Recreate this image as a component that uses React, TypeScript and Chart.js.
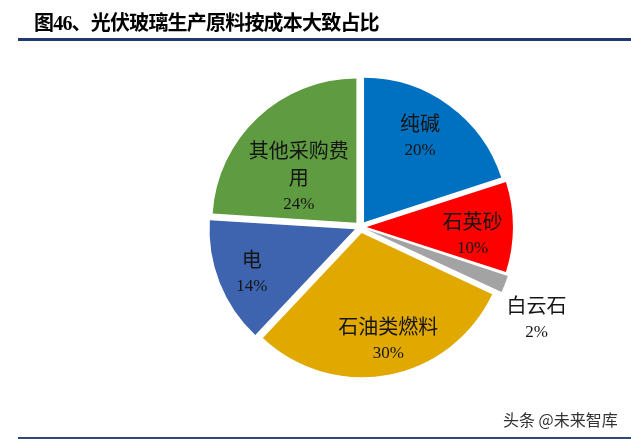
import React, { useEffect, useRef } from "react";
import { Chart, registerables } from "chart.js";

Chart.register(...registerables);

const categories = ["纯碱", "石英砂", "白云石", "石油类燃料", "电", "其他采购费用"];
const shares = [20, 10, 2, 30, 14, 24];
const sliceColors = ["#0070C0", "#FF0000", "#A3A3A3", "#E1A900", "#3E63AF", "#5F9B40"];
const titleText = "图46、光伏玻璃生产原料按成本大致占比";
const watermarkText = "头条 @未来智库";

// label placement per slice: radial fraction and angular nudge (degrees)
const labelLayout = [
  { f: 0.75, da: -2.5 },
  { f: 0.78, da: 4 },
  { f: 1.38, da: 6 },
  { f: 0.81, da: -3 },
  { f: 0.82, da: -1.3 },
  { f: 0.55, da: -8 },
];

const labelPlugin = {
  id: "sliceLabels",
  afterDatasetsDraw(chart: any) {
    const ctx = chart.ctx;
    const meta = chart.getDatasetMeta(0);
    const data = chart.data.datasets[0].data as number[];
    const total = data.reduce((a, b) => a + b, 0);
    ctx.save();
    ctx.fillStyle = "#151515";
    ctx.textAlign = "center";
    ctx.textBaseline = "middle";
    meta.data.forEach((arc: any, i: number) => {
      const p = arc.getProps(["x", "y", "startAngle", "endAngle", "outerRadius"], true);
      const lay = labelLayout[i];
      const mid = (p.startAngle + p.endAngle) / 2 + (lay.da * Math.PI) / 180;
      const r = p.outerRadius * lay.f;
      const cx = p.x + Math.cos(mid) * r;
      const cy = p.y + Math.sin(mid) * r;
      const name = String(chart.data.labels[i]);
      const lines: string[] = [];
      for (let k = 0; k < name.length; k += 5) lines.push(name.slice(k, k + 5));
      lines.push(Math.round((data[i] / total) * 100) + "%");
      const lh = 27;
      const y0 = cy - ((lines.length - 1) * lh) / 2;
      lines.forEach((ln, j) => {
        const isPct = j === lines.length - 1;
        ctx.font = isPct
          ? '17px "Liberation Serif", "Noto Sans CJK SC", serif'
          : '20px "Noto Sans CJK SC", serif';
        ctx.fillText(ln, cx, y0 + j * lh);
      });
    });
    ctx.restore();
  },
};

export default function App() {
  const ref = useRef<HTMLCanvasElement>(null);
  useEffect(() => {
    if (!ref.current) return;
    const chart = new Chart(ref.current, {
      type: "pie",
      data: {
        labels: categories,
        datasets: [
          {
            data: shares,
            backgroundColor: sliceColors,
            borderWidth: 0,
            offset: 24,
            clip: false as any,
          },
        ],
      },
      options: {
        animation: false,
        responsive: false,
        devicePixelRatio: 1,
        layout: { padding: { left: 204.5, right: 114.5, top: 71, bottom: 56 } },
        plugins: {
          legend: { display: false },
          tooltip: { enabled: false },
        },
      },
      plugins: [labelPlugin],
    });
    return () => chart.destroy();
  }, []);

  return (
    <div
      style={{
        position: "absolute",
        left: 0,
        top: 0,
        width: 631,
        height: 439,
        overflow: "hidden",
        background: "#fff",
      }}
    >
      <canvas ref={ref} width={631} height={439} style={{ position: "absolute", left: 0, top: 0 }} />
      <div
        style={{
          position: "absolute",
          left: 34,
          top: 8,
          fontFamily: '"Liberation Serif", "Noto Sans CJK SC", serif',
          fontWeight: 700,
          fontSize: 20,
          letterSpacing: "-0.8px",
          lineHeight: "30px",
          color: "#000",
          whiteSpace: "nowrap",
        }}
      >
        {titleText}
      </div>
      <div style={{ position: "absolute", left: 18, top: 38, width: 613, height: 3, background: "#1F3A72" }} />
      <div
        style={{
          position: "absolute",
          left: 503,
          top: 408,
          fontFamily: '"Noto Sans CJK SC", sans-serif',
          fontSize: 16,
          lineHeight: "22px",
          color: "#333",
          whiteSpace: "nowrap",
        }}
      >
        {watermarkText}
      </div>
      <div style={{ position: "absolute", left: 18, top: 437, width: 613, height: 2, background: "#2E4A7D" }} />
    </div>
  );
}
